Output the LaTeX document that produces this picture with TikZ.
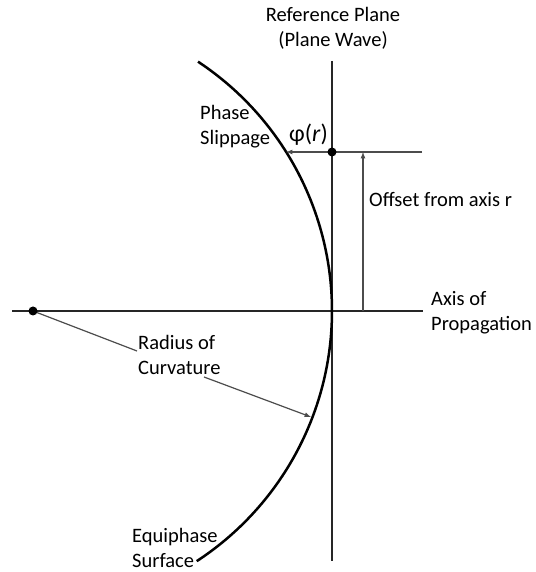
\documentclass[tikz,border=0pt]{standalone}
\usepackage{fontspec}
\setmainfont{Carlito}
\usepackage{tikz}
\usetikzlibrary{arrows}

\begin{document}
\begin{tikzpicture}[x=1pt, y=1pt,
			>=latex,   %Voreinstellung für Pfeilspitzen
			font=\fontsize{20.5}{25}\selectfont,
			linie/.style={color=black!85, line width=1.3pt},
			pfeil/.style={color=black!70, line width=1.2pt, ->},
			flaeche/.style={black, line width=2.5pt},
			punkt/.style={fill=black, draw=none},
			beschr/.style={inner sep=0pt, anchor=west, align=left}]
			%Bildbereich
			\useasboundingbox (0,0) rectangle (535,572);
			%Punkte
			\coordinate (ctr) at (33,261);
			\coordinate (vtx) at (332,261);
			\coordinate (rpt) at (332,420);
			\coordinate (planeTop) at (332,511);
			\coordinate (planeBot) at (332,11);
			\coordinate (axisL) at (12,261);
			\coordinate (axisR) at (423,261);
			\coordinate (offR) at (422,420);
			\coordinate (offTip) at (286,420);
			\coordinate (offFoot) at (363,261);
			\coordinate (offHead) at (363,420);
			\coordinate (radEnd) at (137,221);
			\coordinate (radStart) at (204,195);
			\coordinate (radTip) at (311,155);
			% Achse und Referenzebene
			\draw[linie] (axisL) -- (axisR);
			\draw[linie] (planeTop) -- (planeBot);
			% Phasenflaeche
			\draw[flaeche] (ctr) ++(56.5:299) arc[start angle=56.5, end angle=-56.8, radius=299];
			% Pfeile
			\draw[pfeil] (offR) -- (offTip);
			\draw[pfeil] (offFoot) -- (offHead);
			\draw[color=black!70, line width=1.2pt] (ctr) -- (radEnd);
			\draw[pfeil] (radStart) -- (radTip);
			\fill[punkt] (ctr) circle (4.5);
			\fill[punkt] (rpt) circle (4.5);
			%Beschriftung
			\node[inner sep=0pt, align=center] (refLbl) at (333,543.5) {Reference Plane\\(Plane Wave)};
			\node[beschr] (phaseLbl) at (200,445) {Phase\\Slippage};
			\node[beschr, font=\fontsize{24}{28}\selectfont] (phiLbl) at (289,437) {φ(\textit{r})};
			\node[beschr] (offLbl) at (369,373) {Offset from axis r};
			\node[beschr] (axisLbl) at (431,259) {Axis of\\Propagation};
			\node[beschr] (radLbl) at (138,217.5) {Radius of\\Curvature};
			\node[beschr] (surfLbl) at (132,24.5) {Equiphase\\Surface};
		\end{tikzpicture}
\end{document}
